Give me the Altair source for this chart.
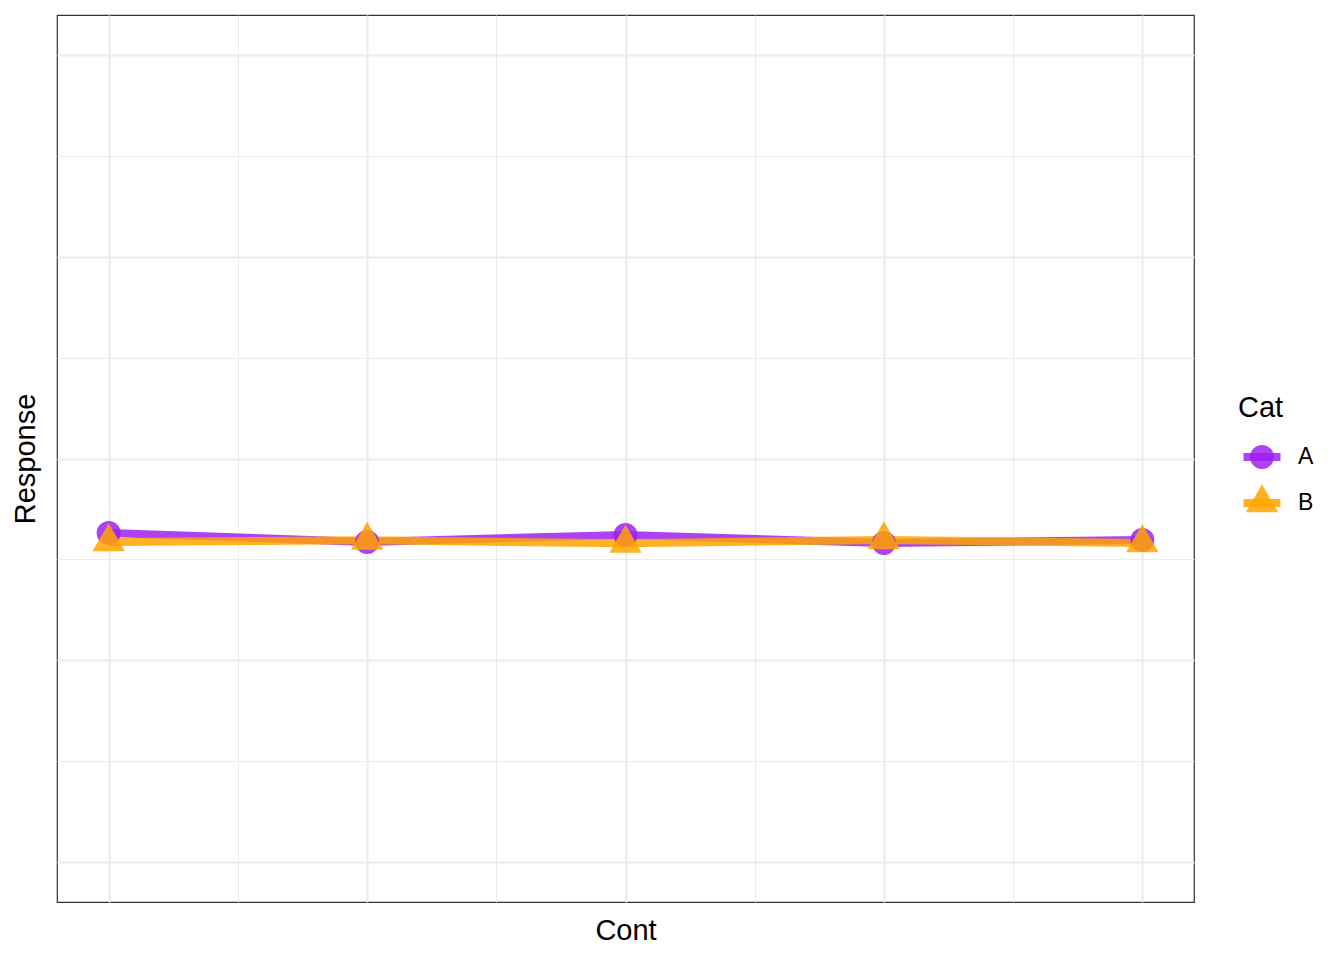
import altair as alt
import pandas as pd

# ---- data ----
cont = [1, 2, 3, 4, 5]
cats = ["A", "B"]
resp_a = [1.631, 1.586, 1.621, 1.581, 1.596]
resp_b = [1.586, 1.594, 1.579, 1.596, 1.581]

colors = ["#A020F0", "#FFA500"]
shapes = ["circle", "M0,-1.555L1.347,0.778L-1.347,0.778Z"]

x_major = [1, 2, 3, 4, 5]
x_minor = [1.5, 2.5, 3.5, 4.5]
y_major = [0, 1, 2, 3, 4]
y_minor = [0.5, 1.5, 2.5, 3.5]

rows = [{"Cont": c, "Response": v, "Cat": "A"} for c, v in zip(cont, resp_a)]
rows += [{"Cont": c, "Response": v, "Cat": "B"} for c, v in zip(cont, resp_b)]
df = pd.DataFrame(rows)

FONT = "Liberation Sans"
GRID = "#EBEBEB"
TITLE_SIZE = 29
LABEL_SIZE = 23

xs = alt.Scale(domain=[0.8, 5.2], nice=False, zero=False)
ys = alt.Scale(domain=[-0.2, 4.2], nice=False, zero=False)
cs = alt.Scale(domain=cats, range=colors)
ss = alt.Scale(domain=cats, range=shapes)

bare = dict(labels=False, ticks=False, domain=False, grid=True)

LEG_X = 1181
LEG_Y = 379

common_leg = dict(
    orient="none", legendX=LEG_X, legendY=LEG_Y, padding=0,
    titleFont=FONT, titleFontSize=TITLE_SIZE, titleFontWeight="normal", titleColor="black",
    titlePadding=14, labelFont=FONT, labelFontSize=LABEL_SIZE, labelColor="black",
    rowPadding=6, clipHeight=40, symbolOffset=12, labelOffset=24,
)

line = alt.Chart(df).mark_line(strokeWidth=8, opacity=0.85, strokeCap="butt").encode(
    x=alt.X("Cont:Q", scale=xs, axis=alt.Axis(
        values=x_major, gridWidth=2, gridColor=GRID, orient="bottom",
        title="Cont", titleFont=FONT, titleFontSize=TITLE_SIZE, titleFontWeight="normal",
        titleColor="black", titleY=28, titleBaseline="middle", **bare)),
    y=alt.Y("Response:Q", scale=ys, axis=alt.Axis(
        values=y_major, gridWidth=2, gridColor=GRID, orient="left",
        title="Response", titleFont=FONT, titleFontSize=TITLE_SIZE, titleFontWeight="normal",
        titleColor="black", titleX=-32, titleY=443.5, titleAngle=270,
        titleAlign="center", titleBaseline="middle", **bare)),
    color=alt.Color("Cat:N", scale=cs, legend=alt.Legend(
        title=" ", labelExpr="''",
        symbolType="stroke", symbolSize=1369, symbolStrokeWidth=8,
        symbolOpacity=0.85,
        **{**common_leg, "symbolOffset": 1.5, "labelOffset": 17})),
)

pts = alt.Chart(df).mark_point(filled=True, size=576, opacity=0.85, strokeWidth=0).encode(
    x=alt.X("Cont:Q", scale=xs, axis=alt.Axis(
        values=x_minor, gridWidth=1, gridColor=GRID, orient="top", title=None, **bare)),
    y=alt.Y("Response:Q", scale=ys, axis=alt.Axis(
        values=y_minor, gridWidth=1, gridColor=GRID, orient="right", title=None, **bare)),
    color=alt.Color("Cat:N", scale=cs, legend=alt.Legend(
        title="Cat", symbolSize=576, symbolStrokeWidth=0, symbolOpacity=0.85, **common_leg)),
    shape=alt.Shape("Cat:N", scale=ss, legend=alt.Legend(
        title="Cat", symbolSize=576, symbolStrokeWidth=0, symbolOpacity=0.85, **common_leg)),
)

chart = alt.layer(line, pts).resolve_axis(
    x="independent", y="independent"
).resolve_legend(
    color="independent", shape="independent"
).properties(
    width=1137, height=887,
    padding={"left": 49, "top": 7, "right": 120, "bottom": 50},
    autosize="none",
    background="white",
).configure(
    font=FONT
).configure_view(
    stroke="#333333", strokeWidth=1.2
)

chart.save("out.html", embed_options={"renderer": "svg", "actions": False})
